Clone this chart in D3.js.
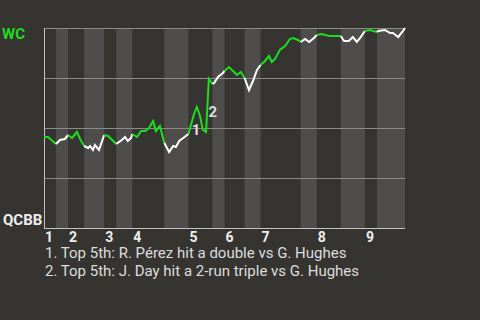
<!DOCTYPE html>
<html>
<head>
<meta charset="utf-8">
<script src="https://cdn.jsdelivr.net/npm/d3@7"></script>
<style>
  html, body { margin: 0; padding: 0; background: #363430; }
  svg { display: block; font-family: Roboto, "Noto Sans", sans-serif; }
</style>
</head>
<body>
<svg id="chart" width="480" height="320"></svg>
<script>
// half-inning boundaries, in plays
var halfStarts = [0, 3, 6, 10, 15, 18, 22, 30, 36, 42, 45, 50, 54, 64, 68, 74, 80, 83, 90];
var innings = ["1", "2", "3", "4", "5", "6", "7", "8", "9"];

// WC win probability (%) after each play
var plays = [0, 1, 3, 4, 5.2, 6, 7, 8.2, 9, 10, 11, 11.5, 12.2, 12.7, 13.7, 15, 16, 18, 19.4, 20.2,
  20.9, 21.7, 22, 23.2, 24.2, 25.2, 26.2, 27.2, 27.9, 28.9, 30, 31.2, 32.2, 32.9, 33.7, 34.7, 36,
  37.4, 38.1, 38.9, 39.6, 40.4, 41.1, 42, 42.4, 43.4, 44.6, 45, 46.1, 47.4, 48.1, 49.1, 50, 51.1,
  52.1, 53.1, 54, 55.1, 56.1, 56.8, 57.6, 58.8, 60.1, 61.3, 62.1, 63.3, 64, 65.1, 66.1, 67.3, 68,
  69.1, 70.1, 71.3, 74, 74.8, 76, 77, 78, 78.8, 80, 81.3, 83, 83.3, 85, 86.3, 87, 88.3, 89.5, 90];
var wcProb = [45.5, 45.5, 42, 44, 44.5, 46.5, 45, 48, 44.5, 41, 40, 41, 39, 41.5, 39, 46.5, 46, 42, 44, 45.5,
  43.5, 45, 47, 45.5, 48.5, 48.5, 50, 53.5, 48.5, 51, 42.5, 38, 41, 40.5, 43.5, 45, 47,
  57, 60.5, 56, 49, 48, 74.5, 72, 72.5, 75.5, 77.5, 78.5, 80.5, 78, 76.5, 78, 75, 69,
  73.5, 79, 81.5, 83.5, 86, 83, 84.5, 89, 91, 94.5, 95, 94, 93, 94.5, 93, 95, 96.5,
  97, 96.5, 96, 96, 93.5, 93.5, 95.5, 93, 95, 98.5, 99, 98, 98.5, 99, 97.5, 97.5, 95.5, 98.5, 100];

var noteLabels = ["1", "2"];
var notePlay = [37.9, 42.1];
var noteProb = [46.5, 55.5];
var noteTexts = [
  "1. Top 5th: R. Pérez hit a double vs G. Hughes",
  "2. Top 5th: J. Day hit a 2-run triple vs G. Hughes"
];

var margin = { top: 28, right: 75, bottom: 92, left: 44 };
var width = 480 - margin.left - margin.right;
var height = 320 - margin.top - margin.bottom;

var green = "#1edc1e";
var svg = d3.select("#chart");

var x = d3.scaleLinear().domain([0, 90]).range([margin.left, margin.left + width]);
var y = d3.scaleLinear().domain([0, 100]).range([margin.top + height, margin.top]);

// bottom-half stripes
var halves = d3.range(halfStarts.length - 1).map(function (i) {
  return { i: i, x0: halfStarts[i], x1: halfStarts[i + 1], top: i % 2 === 0 };
});
svg.append("g").selectAll("rect")
  .data(halves.filter(function (d) { return !d.top; }))
  .enter().append("rect")
  .attr("x", function (d) { return x(d.x0); })
  .attr("width", function (d) { return x(d.x1) - x(d.x0); })
  .attr("y", y(100))
  .attr("height", y(0) - y(100))
  .attr("fill", "#4f4d4b");

// gridlines
svg.append("g").selectAll("line")
  .data([25, 50, 75, 100])
  .enter().append("line")
  .attr("x1", x(0)).attr("x2", x(90))
  .attr("y1", function (d) { return Math.round(y(d)) + 0.5; })
  .attr("y2", function (d) { return Math.round(y(d)) + 0.5; })
  .attr("stroke", "#8c8a88");

// axis lines
svg.append("line")
  .attr("x1", x(0) + 0.5).attr("x2", x(0) + 0.5)
  .attr("y1", y(100)).attr("y2", y(0) + 1)
  .attr("stroke", "#c4c2c0");
svg.append("line")
  .attr("x1", x(0)).attr("x2", x(90))
  .attr("y1", Math.round(y(0)) + 0.5).attr("y2", Math.round(y(0)) + 0.5)
  .attr("stroke", "#c4c2c0");

// win probability line, coloured by batting team
var pts = plays.map(function (p, i) { return { p: p, v: wcProb[i] }; });
var line = d3.line()
  .x(function (d) { return x(d.p); })
  .y(function (d) { return y(d.v); });
svg.append("g").selectAll("path")
  .data(halves)
  .enter().append("path")
  .attr("d", function (h) {
    return line(pts.filter(function (d) { return d.p >= h.x0 && d.p <= h.x1; }));
  })
  .attr("fill", "none")
  .attr("stroke", function (h) { return h.top ? green : "#ffffff"; })
  .attr("stroke-width", 2)
  .attr("stroke-linejoin", "miter");

// team labels
svg.append("text").attr("x", 2).attr("y", 38.5)
  .attr("font-size", 15).attr("font-weight", "bold").attr("fill", green).text("WC");
svg.append("text").attr("x", 3).attr("y", 225)
  .attr("font-size", 15).attr("font-weight", "bold").attr("fill", "#eeeeee").text("QCBB");

// inning labels
svg.append("g").selectAll("text")
  .data(innings)
  .enter().append("text")
  .attr("x", function (d, i) { return x(halfStarts[i * 2]) + 1; })
  .attr("y", 242)
  .attr("font-size", 14).attr("font-weight", "bold").attr("fill", "#eeeeee")
  .text(function (d) { return d; });

// event markers
svg.append("g").selectAll("text")
  .data(noteLabels)
  .enter().append("text")
  .attr("x", function (d, i) { return x(notePlay[i]); })
  .attr("y", function (d, i) { return y(noteProb[i]); })
  .attr("text-anchor", "middle")
  .attr("font-size", 15).attr("font-weight", "bold").attr("fill", "#dddddd")
  .text(function (d) { return d; });

// notes
svg.append("g").selectAll("text")
  .data(noteTexts)
  .enter().append("text")
  .attr("x", 45)
  .attr("y", function (d, i) { return 258 + i * 18; })
  .attr("font-size", 15).attr("fill", "#dddddd")
  .text(function (d) { return d; });
</script>
</body>
</html>
